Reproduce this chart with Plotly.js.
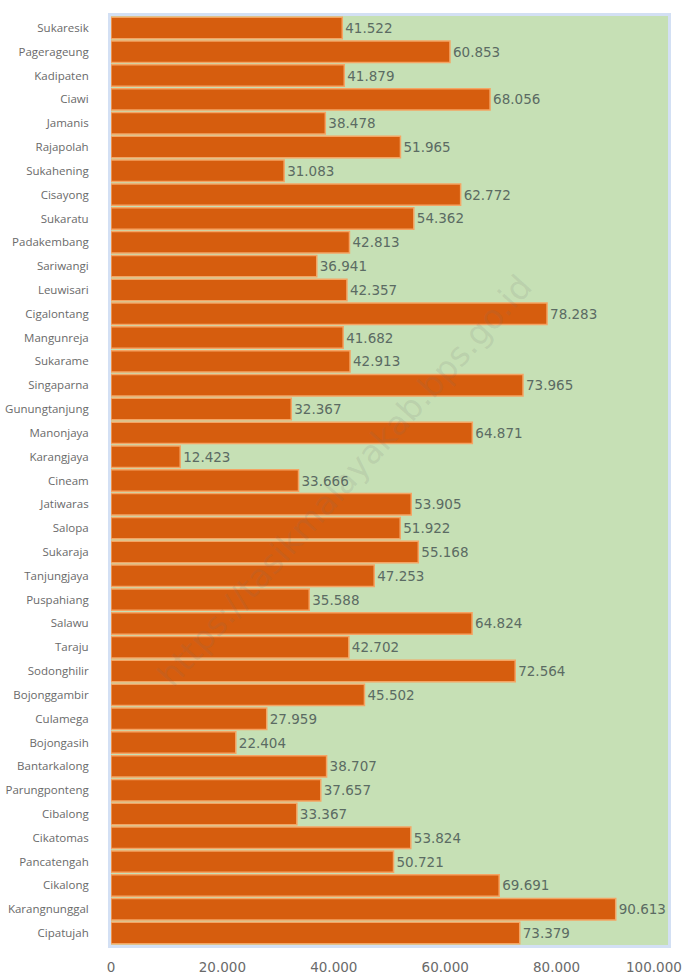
<!DOCTYPE html>
<html>
<head>
<meta charset="utf-8">
<script src="https://cdn.plot.ly/plotly-3.0.1.min.js"></script>
<style>html,body{margin:0;padding:0;background:#fff;}#chart{width:685px;height:976px;}</style>
</head>
<body>
<div id="chart"></div>
<script>
var kecamatan = ["Sukaresik","Pagerageung","Kadipaten","Ciawi","Jamanis","Rajapolah","Sukahening","Cisayong","Sukaratu","Padakembang","Sariwangi","Leuwisari","Cigalontang","Mangunreja","Sukarame","Singaparna","Gunungtanjung","Manonjaya","Karangjaya","Cineam","Jatiwaras","Salopa","Sukaraja","Tanjungjaya","Puspahiang","Salawu","Taraju","Sodonghilir","Bojonggambir","Culamega","Bojongasih","Bantarkalong","Parungponteng","Cibalong","Cikatomas","Pancatengah","Cikalong","Karangnunggal","Cipatujah"];
var nilai = [41522,60853,41879,68056,38478,51965,31083,62772,54362,42813,36941,42357,78283,41682,42913,73965,32367,64871,12423,33666,53905,51922,55168,47253,35588,64824,42702,72564,45502,27959,22404,38707,37657,33367,53824,50721,69691,90613,73379];
var tickVals = [0,20000,40000,60000,80000,100000];

var FONT = '"DejaVu Sans", Verdana, sans-serif';
var LABELFONT = '"Open Sans", "DejaVu Sans", sans-serif';

function fmt(v) { return v.toLocaleString('de-DE'); }

var lastTick = tickVals[tickVals.length - 1];

var trace = {
  type: 'bar',
  orientation: 'h',
  y: kecamatan,
  x: nilai,
  marker: {color: '#d65d0e', line: {color: '#f5a463', width: 1.5}},
  texttemplate: '%{x:,}',
  textposition: 'outside',
  textfont: {family: FONT, size: 13.5, color: '#5b6b63'},
  cliponaxis: false,
  hoverinfo: 'none'
};

var layout = {
  width: 685, height: 976,
  margin: {l: 111, r: 17, t: 16, b: 31},
  paper_bgcolor: '#ffffff',
  plot_bgcolor: '#c6e0b5',
  separators: ',.',
  bargap: 0.1,
  showlegend: false,
  font: {family: FONT, color: '#595959'},
  xaxis: {
    range: [0, lastTick],
    tickvals: tickVals.slice(0, -1),
    tickformat: ',',
    showgrid: false,
    zeroline: false,
    showline: true, mirror: true, linecolor: '#d3e0f4', linewidth: 3,
    ticks: '',
    tickfont: {family: FONT, size: 13.5, color: '#6a6a6a'},
    ticklabelstandoff: 8,
    fixedrange: true
  },
  yaxis: {
    autorange: 'reversed',
    showgrid: false,
    zeroline: false,
    showline: true, mirror: true, linecolor: '#d3e0f4', linewidth: 3,
    ticks: '',
    tickfont: {family: LABELFONT, size: 11.5, color: '#6a6a6a'},
    ticklabelstandoff: 17,
    automargin: false,
    fixedrange: true
  },
  annotations: [{
    xref: 'paper', yref: 'paper', x: 0.42, y: 0.5,
    text: 'https://tasikmalayakab.bps.go.id',
    showarrow: false, textangle: -48,
    font: {size: 33, color: 'rgba(110,110,110,0.14)', family: FONT}
  }, {
    xref: 'x', yref: 'paper', x: lastTick, y: 0,
    xanchor: 'right', yanchor: 'top', xshift: 16, yshift: -12,
    text: fmt(lastTick), showarrow: false,
    font: {family: FONT, size: 13.5, color: '#6a6a6a'}
  }]
};

Plotly.newPlot('chart', [trace], layout, {displayModeBar: false, staticPlot: true});
</script>
</body>
</html>
